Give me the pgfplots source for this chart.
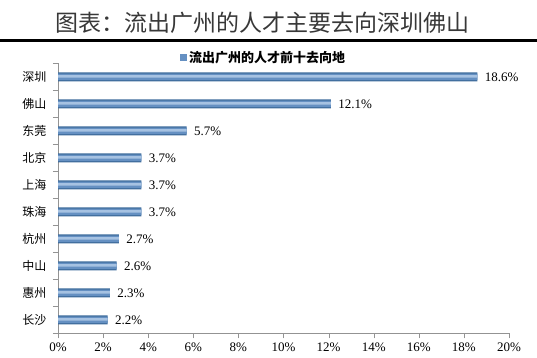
\documentclass[border=0pt]{standalone}
\usepackage{pgfplots}
\pgfplotsset{compat=1.18}
\usepackage{fontspec}
\setmainfont{Liberation Serif}
\newfontfamily\cjk{Noto Sans CJK SC}
\definecolor{bardark}{HTML}{3D6B9B}
\definecolor{barmid}{HTML}{6590C2}
\definecolor{barlight}{HTML}{A6C2E2}
\pgfplotstableread{
x y
18.6 9
12.1 8
5.7 7
3.7 6
3.7 5
3.7 4
2.7 3
2.6 2
2.3 1
2.2 0
}\datatable
\begin{document}
\begin{tikzpicture}
\useasboundingbox (0pt,0pt) rectangle (537pt,358pt);
\node[font=\cjk\fontsize{23}{23}\selectfont, text=black!78] at (262pt,335pt) {图表：流出广州的人才主要去向深圳佛山};
\draw[line width=3pt] (0pt,317.5pt) -- (537pt,317.5pt);
\begin{axis}[
  at={(58pt,24.5pt)}, anchor=south west, scale only axis,
  width=451pt, height=270pt,
  xmin=0, xmax=20, ymin=-0.5, ymax=9.5,
  axis x line*=bottom, axis y line*=left,
  axis line style={-, draw=gray!85},
  xtick={0,2,...,20},
  xticklabel={\pgfmathprintnumber{\tick}\%},
  /pgf/number format/assume math mode=true,
  ytick={0,...,9},
  yticklabels={长沙,惠州,中山,杭州,珠海,上海,北京,东莞,佛山,深圳},
  y tick label style={font=\cjk\fontsize{12}{12}\selectfont, xshift=-3pt},
  x tick label style={font=\fontsize{13}{13}\selectfont, yshift=-1pt},
  minor ytick={-0.5,0.5,...,9.5},
  tick align=outside,
  major tick length=5pt, minor tick length=5pt,
  every major y tick/.style={draw=none},
  tick style={draw=gray!85},
  xbar, bar width=9pt,
  legend style={at={(0.5,1)}, anchor=center, xshift=-20pt, yshift=5.5pt, draw=none, fill=none,
    font=\cjk\bfseries\fontsize{13}{13}\selectfont, inner sep=1pt},
  legend image code/.code={\fill[barmid] (0pt,-3.5pt) rectangle (7pt,3.5pt);},
]
\addplot[draw=none, fill=bardark, bar width=9pt, bar shift=0pt,
  nodes near coords={\pgfmathprintnumber[fixed,fixed zerofill,precision=1]{\pgfplotspointmeta}\%},
  nodes near coords align=horizontal,
  every node near coord/.append style={font=\fontsize{13}{13}\selectfont, text=black, xshift=4pt}]
  table[x=x,y=y] {\datatable};
\addlegendentry{流出广州的人才前十去向地}
\addplot[draw=none, fill=barmid, bar width=6.5pt, bar shift=0pt, forget plot] table[x=x,y=y] {\datatable};
\addplot[draw=none, fill=barlight, bar width=2.5pt, bar shift=0.5pt, forget plot] table[x=x,y=y] {\datatable};
\end{axis}
\end{tikzpicture}
\end{document}
